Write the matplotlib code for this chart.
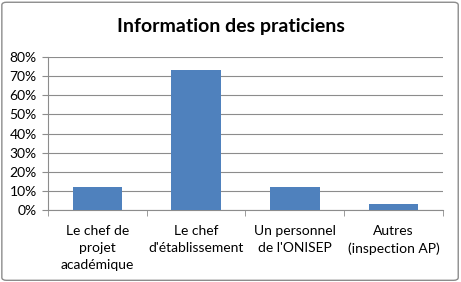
import matplotlib.pyplot as plt
from matplotlib.patches import FancyBboxPatch
from matplotlib.ticker import FixedLocator, PercentFormatter

categories = ["Le chef de\nprojet\nacadémique", "Le chef\nd'établissement",
              "Un personnel\nde l'ONISEP", "Autres\n(inspection AP)"]
values = [12, 73, 12, 3]
yticks = [0, 10, 20, 30, 40, 50, 60, 70, 80]

plt.rcParams['font.family'] = ['Lato', 'DejaVu Sans']

fig = plt.figure(figsize=(4.61, 2.82), dpi=100)
fig.patches.append(FancyBboxPatch((0.004, 0.006), 0.99, 0.986,
                                  boxstyle="round,pad=0,rounding_size=0.01",
                                  transform=fig.transFigure, fill=False,
                                  edgecolor='#8c8c8c', linewidth=1.0))
ax = fig.add_axes([0.104, 0.255, 0.857, 0.543])

x = range(len(categories))
ax.bar(x, values, width=0.5, color='#4f81bd', zorder=3)
ax.set_xlim(-0.5, len(categories) - 0.5)
ax.set_ylim(0, 80)
ax.set_yticks(yticks)
ax.yaxis.set_major_formatter(PercentFormatter(decimals=0))
ax.grid(axis='y', color='#8c8c8c', linewidth=0.8, zorder=0)

ax.set_xticks(list(x))
ax.set_xticklabels(categories, fontsize=10, linespacing=1.5)
ax.tick_params(axis='x', length=0, pad=11)
ax.xaxis.set_minor_locator(FixedLocator([-0.5, 0.5, 1.5, 2.5, 3.5]))
ax.tick_params(axis='x', which='minor', length=4, color='#8c8c8c')
ax.tick_params(axis='y', labelsize=10, length=4, color='#8c8c8c', pad=4)

for side in ['top', 'right']:
    ax.spines[side].set_visible(False)
for side in ['left', 'bottom']:
    ax.spines[side].set_color('#8c8c8c')

fig.text(0.5, 0.905, "Information des praticiens", ha='center', va='center',
         fontsize=14, fontweight='bold')

fig.savefig('out.png', dpi=100)
